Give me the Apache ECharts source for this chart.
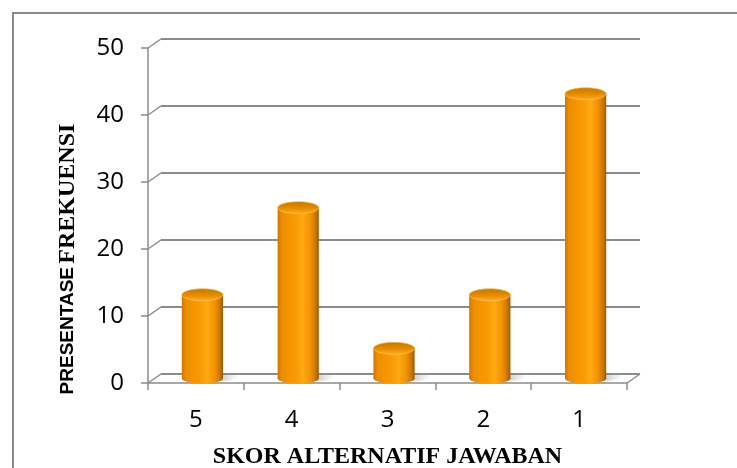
<!DOCTYPE html>
<html>
<head>
<meta charset="utf-8">
<script src="https://cdn.jsdelivr.net/npm/echarts@6/dist/echarts.min.js"></script>
<style>
  html, body { margin: 0; padding: 0; background: #ffffff; }
  #chart { width: 737px; height: 468px; }
</style>
</head>
<body>
<div id="chart"></div>
<script>
// Skor alternatif jawaban (categories) and their percentage of answers
const categories = ['5', '4', '3', '2', '1'];
const percentValues = [12.5, 25.5, 4.5, 12.5, 42.5];
// Value-axis levels, also used for the perspective connectors of the back wall
const yTickValues = [0, 10, 20, 30, 40, 50];

// Perspective depth of the pseudo-3D plot box (pixels right / up)
const DEPTH_X = 13;
const DEPTH_Y = 9;
const GRID_COLOR = '#8c8c8c';

const chart = echarts.init(document.getElementById('chart'), null, { renderer: 'canvas' });

// Orange cylinder body: dark edges, bright centre highlight
const bodyGradient = new echarts.graphic.LinearGradient(0, 0, 1, 0, [
  { offset: 0, color: '#cf7800' },
  { offset: 0.1, color: '#ee8e00' },
  { offset: 0.45, color: '#fa9b04' },
  { offset: 0.62, color: '#ffa914' },
  { offset: 0.8, color: '#f29200' },
  { offset: 0.93, color: '#c87400' },
  { offset: 1, color: '#9a5800' }
]);
const capGradient = new echarts.graphic.LinearGradient(0, 0, 0, 1, [
  { offset: 0, color: '#c47600' },
  { offset: 0.55, color: '#e68c00' },
  { offset: 1, color: '#ffb02a' }
]);
// Soft floor shadow trailing to the right of each cylinder
const shadowGradient = new echarts.graphic.LinearGradient(0, 0, 1, 0, [
  { offset: 0, color: 'rgba(90,90,90,0.45)' },
  { offset: 0.6, color: 'rgba(140,140,140,0.25)' },
  { offset: 1, color: 'rgba(200,200,200,0)' }
]);

function renderCylinder(params, api) {
  const idx = api.value(0);
  const v = api.value(1);
  const base = api.coord([idx, 0]);
  const top = api.coord([idx, v]);
  const w = api.size([1, 0])[0] * 0.43;
  const cx = base[0] + DEPTH_X / 2;
  const by = base[1] - DEPTH_Y / 2;
  const ty = top[1] - DEPTH_Y / 2;
  const rx = w / 2;
  return {
    type: 'group',
    children: [
      {
        type: 'polygon',
        shape: {
          points: [
            [cx, by - 4], [cx + rx + 14, by - 5], [cx + rx + 18, by - 2],
            [cx + rx + 6, by + 2], [cx, by + 3]
          ]
        },
        style: { fill: shadowGradient, shadowBlur: 4, shadowColor: 'rgba(120,120,120,0.4)' }
      },
      {
        type: 'ellipse',
        shape: { cx: cx, cy: by, rx: rx, ry: 5 },
        style: { fill: bodyGradient }
      },
      {
        type: 'rect',
        shape: { x: cx - rx, y: ty, width: w, height: by - ty },
        style: { fill: bodyGradient }
      },
      {
        type: 'ellipse',
        shape: { cx: cx, cy: ty, rx: rx, ry: 6 },
        style: { fill: capGradient, stroke: 'rgba(255,190,80,0.7)', lineWidth: 1 }
      }
    ]
  };
}

// Short diagonal links from the front value axis to the back-wall gridlines,
// plus the right edge of the floor
function renderConnectors(params, api) {
  const cs = params.coordSys;
  const y = api.coord([0, api.value(1)])[1];
  const children = [{
    type: 'line',
    shape: { x1: cs.x, y1: y, x2: cs.x + DEPTH_X, y2: y - DEPTH_Y },
    style: { stroke: GRID_COLOR, lineWidth: 1.5 }
  }];
  if (api.value(1) === 0) {
    children.push({
      type: 'line',
      shape: { x1: cs.x + cs.width, y1: y, x2: cs.x + cs.width + DEPTH_X, y2: y - DEPTH_Y },
      style: { stroke: GRID_COLOR, lineWidth: 1.5 }
    });
  }
  return { type: 'group', children: children };
}

const option = {
  backgroundColor: '#ffffff',
  animation: false,
  graphic: [
    {
      type: 'rect',
      shape: { x: 13, y: 13, width: 780, height: 520 },
      style: { fill: 'none', stroke: '#8a8a8a', lineWidth: 2 },
      z: 0
    },
    {
      type: 'text',
      x: 68,
      y: 259,
      rotation: Math.PI / 2,
      style: {
        text: '{a|PRESENTASE} {b|FREKUENSI}',
        align: 'center',
        verticalAlign: 'middle',
        fill: '#000000',
        rich: {
          a: { fontFamily: 'Liberation Sans', fontWeight: 'bold', fontSize: 19, fill: '#000000' },
          b: { fontFamily: 'Liberation Serif', fontWeight: 'bold', fontSize: 24, fill: '#000000' }
        }
      }
    }
  ],
  grid: [
    { left: 148, right: 110, top: 48, bottom: 85, outerBoundsMode: 'none', containLabel: false },
    {
      left: 148 + DEPTH_X, right: 110 - DEPTH_X, top: 48 - DEPTH_Y, bottom: 85 + DEPTH_Y,
      outerBoundsMode: 'none', containLabel: false
    }
  ],
  xAxis: [
    {
      type: 'category',
      gridIndex: 0,
      data: categories,
      boundaryGap: true,
      name: 'SKOR ALTERNATIF JAWABAN',
      nameLocation: 'middle',
      nameGap: 62,
      nameTextStyle: {
        fontFamily: 'Liberation Serif',
        fontWeight: 'bold',
        fontSize: 24,
        color: '#000000'
      },
      axisLine: { show: true, lineStyle: { color: GRID_COLOR, width: 1.5 } },
      axisTick: { show: true, length: 7, lineStyle: { color: GRID_COLOR, width: 1.5 } },
      axisLabel: {
        margin: 25,
        fontFamily: 'Open Sans',
        fontSize: 24,
        color: '#000000'
      },
      splitLine: { show: false }
    },
    {
      type: 'category',
      gridIndex: 1,
      data: categories,
      show: false
    }
  ],
  yAxis: [
    {
      type: 'value',
      gridIndex: 0,
      min: 0,
      max: 50,
      interval: 10,
      axisLine: { show: true, lineStyle: { color: GRID_COLOR, width: 1.5 } },
      axisTick: { show: true, length: 7, lineStyle: { color: GRID_COLOR, width: 1.5 } },
      axisLabel: {
        margin: 24,
        fontFamily: 'Open Sans',
        fontSize: 24,
        color: '#000000',
        padding: [9, 0, 0, 0]
      },
      splitLine: { show: false }
    },
    {
      type: 'value',
      gridIndex: 1,
      min: 0,
      max: 50,
      interval: 10,
      axisLine: { show: false },
      axisTick: { show: false },
      axisLabel: { show: false },
      splitLine: { show: true, lineStyle: { color: GRID_COLOR, width: 2 } }
    }
  ],
  series: [
    {
      type: 'custom',
      name: 'connectors',
      xAxisIndex: 0,
      yAxisIndex: 0,
      data: yTickValues.map(function (v) { return [0, v]; }),
      renderItem: renderConnectors,
      silent: true,
      z: 1
    },
    {
      type: 'custom',
      name: 'Presentase',
      xAxisIndex: 0,
      yAxisIndex: 0,
      data: percentValues.map(function (v, i) { return [i, v]; }),
      renderItem: renderCylinder,
      z: 3
    }
  ]
};

chart.setOption(option);
</script>
</body>
</html>
